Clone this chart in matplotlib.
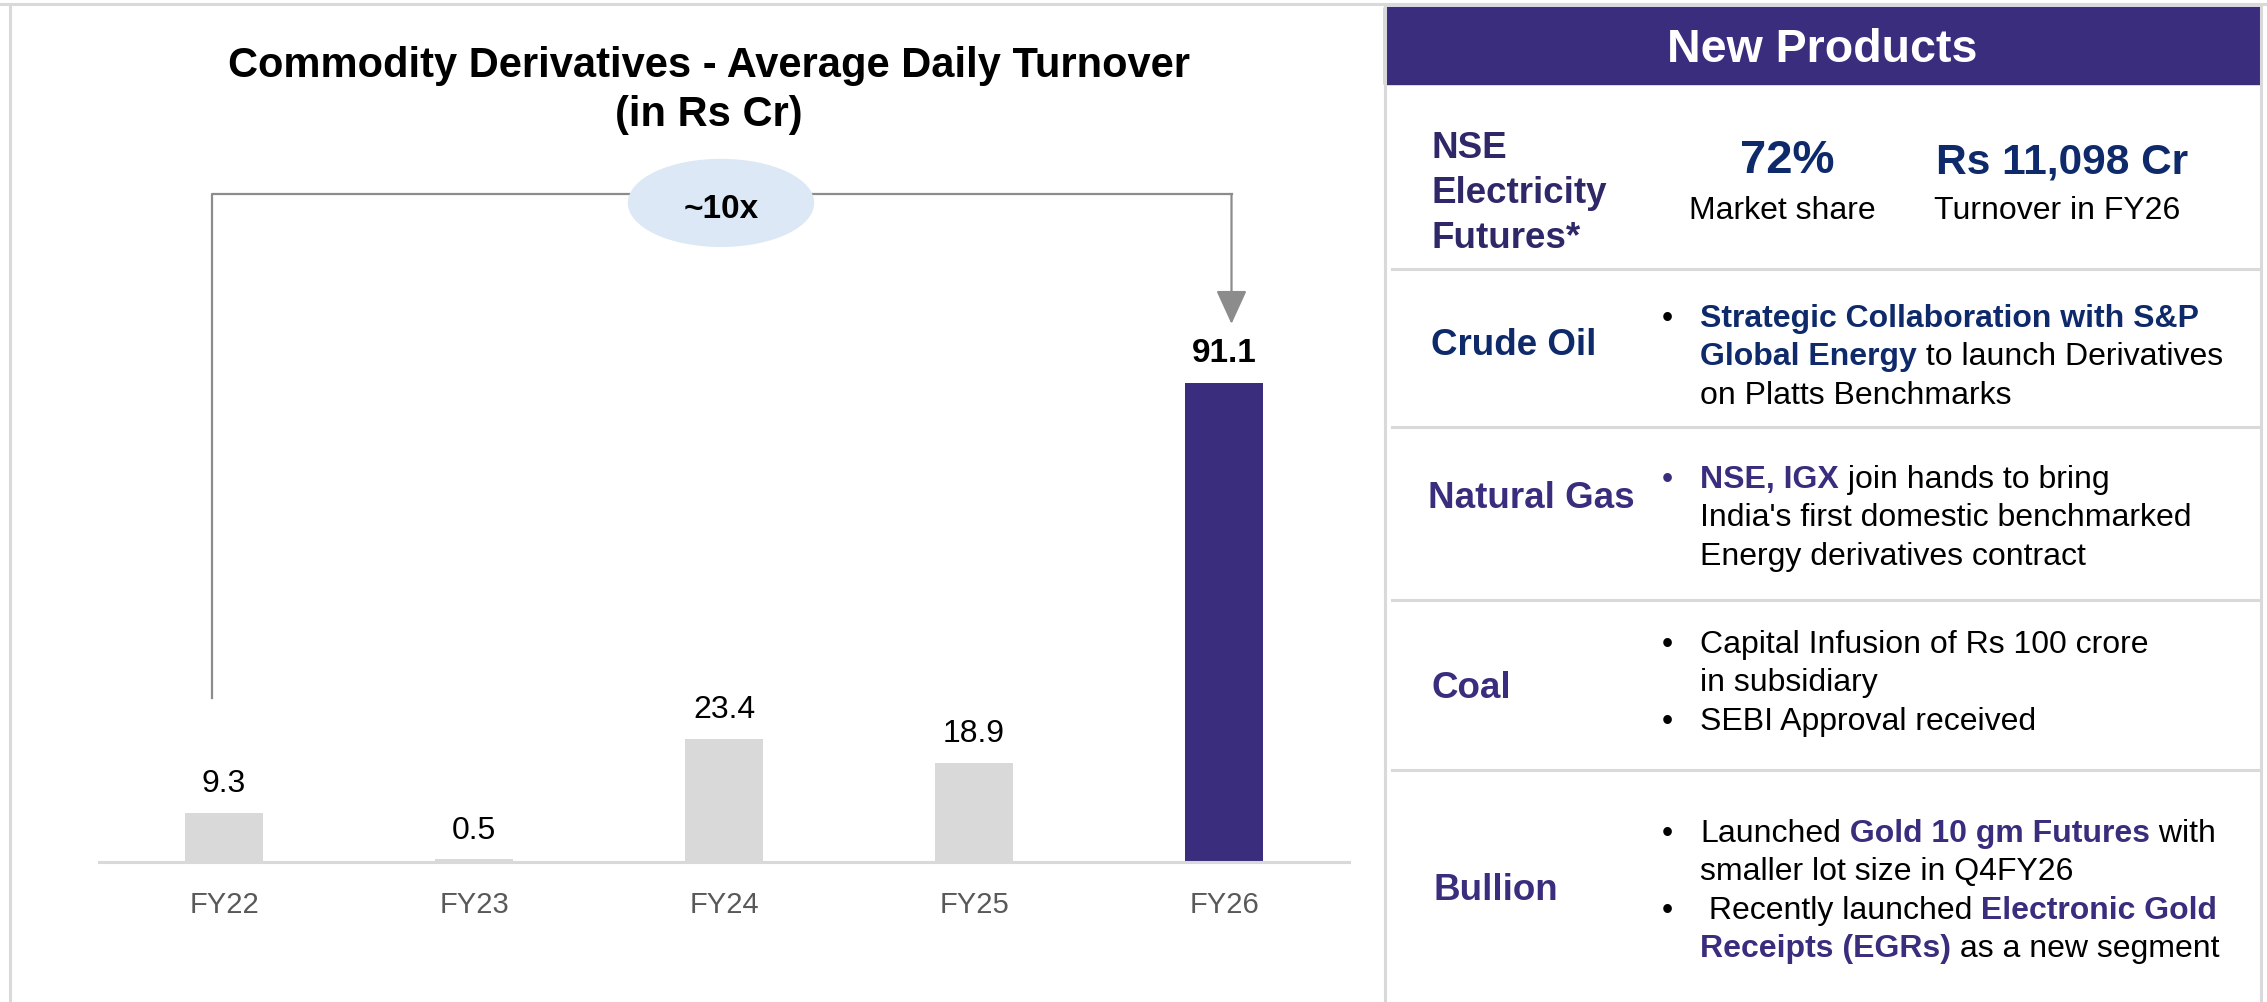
import matplotlib
matplotlib.use('Agg')
import matplotlib.pyplot as plt
from matplotlib.patches import Ellipse, Rectangle
from matplotlib.lines import Line2D

# ---- bar chart data ----
years = ['FY22', 'FY23', 'FY24', 'FY25', 'FY26']
turnover = [9.3, 0.5, 23.4, 18.9, 91.1]
highlight_year = 'FY26'
growth_label = '~10x'
title_lines = ['Commodity Derivatives - Average Daily Turnover', '(in Rs Cr)']

# ---- new products panel ----
header = 'New Products'
electricity_label = ['NSE', 'Electricity', 'Futures*']
electricity_values = ['72%', 'Rs 11,098 Cr']
electricity_captions = ['Market share', 'Turnover in FY26']
product_labels = ['Crude Oil', 'Natural Gas', 'Coal', 'Bullion']
# each line: (starts with bullet, [(text, bold), ...])
crude_lines = [
    (True, [('Strategic Collaboration with S&P', True)]),
    (False, [('Global Energy', True), (' to launch Derivatives', False)]),
    (False, [('on Platts Benchmarks', False)]),
]
gas_lines = [
    (True, [('NSE, IGX', True), (' join hands to bring', False)]),
    (False, [("India's first domestic benchmarked", False)]),
    (False, [('Energy derivatives contract', False)]),
]
coal_lines = [
    (True, [('Capital Infusion of Rs 100 crore', False)]),
    (False, [('in subsidiary', False)]),
    (True, [('SEBI Approval received', False)]),
]
bullion_lines = [
    (True, [('Launched', False), (' Gold 10 gm Futures', True), (' with', False)]),
    (False, [('smaller lot size in Q4FY26', False)]),
    (True, [(' Recently launched', False), (' Electronic Gold', True)]),
    (False, [('Receipts (EGRs)', True), (' as a new segment', False)]),
]
product_lines = [crude_lines, gas_lines, coal_lines, bullion_lines]

# ---- colours ----
PURPLE = '#3A2D7D'
NAVY = '#0F2A6B'
DARK_PURPLE = '#2F2868'
GREY_BAR = '#D9D9D9'
BORDER = '#D9D9D9'
BRACKET = '#8C8C8C'
BUBBLE = '#DCE8F5'
TICK = '#595959'

plt.rcParams['font.family'] = ['Liberation Sans', 'DejaVu Sans']

W, H = 2267, 1002
fig = plt.figure(figsize=(W / 100, H / 100), dpi=100)
renderer = fig.canvas.get_renderer()


def fx(x):
    return x / W


def fy(y):
    return 1 - y / H


def hline(y, x0, x1, lw=1.5, color=BORDER):
    fig.add_artist(Line2D([fx(x0), fx(x1)], [fy(y), fy(y)], color=color, lw=lw))


def vline(x, y0, y1, lw=1.5, color=BORDER):
    fig.add_artist(Line2D([fx(x), fx(x)], [fy(y0), fy(y1)], color=color, lw=lw))


def put_runs(x, y, runs, size, bold_color):
    for text, bold in runs:
        t = fig.text(fx(x), fy(y), text, fontsize=size,
                     fontweight='bold' if bold else 'normal',
                     color=bold_color if bold else 'black',
                     ha='left', va='baseline')
        x += t.get_window_extent(renderer).width


# ---- frame lines ----
hline(4, 0, W, lw=2.2)
vline(10, 4, H, lw=2.2)
vline(1385, 7, H, lw=2.2)
vline(2261, 7, H, lw=2.2)

# ---- title ----
fig.text(fx(709), fy(77), title_lines[0], ha='center', va='baseline',
         fontsize=30, fontweight='bold')
fig.text(fx(709), fy(126), title_lines[1], ha='center', va='baseline',
         fontsize=30, fontweight='bold')

# ---- bar chart ----
ax = fig.add_axes([fx(99), fy(862), (1349 - 99) / W, (862 - 336) / H])
x = list(range(len(years)))
colors = [PURPLE if y == highlight_year else GREY_BAR for y in years]
ax.bar(x, turnover, width=0.31, color=colors, zorder=2)
for i, v in enumerate(turnover):
    is_hl = years[i] == highlight_year
    ax.annotate(f'{v}', xy=(i, v), xytext=(0, 15), textcoords='offset points',
                ha='center', va='baseline', fontsize=24 if is_hl else 23,
                fontweight='bold' if is_hl else 'normal')
ax.set_xlim(-0.5, len(years) - 0.5)
ax.set_ylim(0, 100)
ax.set_xticks(x, years, fontsize=21, color=TICK)
ax.tick_params(axis='x', length=0, pad=21)
ax.set_yticks([])
for side in ['left', 'right', 'top']:
    ax.spines[side].set_visible(False)
ax.spines['bottom'].set_color(GREY_BAR)
ax.spines['bottom'].set_linewidth(2.2)
ax.patch.set_visible(False)

# growth bracket from first bar to last bar
left_x, right_x = -0.05, len(years) - 1 + 0.03
top_y = 127
ax.plot([left_x, left_x, right_x], [31.2, top_y, top_y], color=BRACKET,
        lw=1.6, clip_on=False, zorder=1)
ax.annotate('', xy=(right_x, 102.3), xytext=(right_x, top_y),
            arrowprops=dict(arrowstyle='-|>,head_length=1.05,head_width=0.48',
                            color=BRACKET, lw=1.6, shrinkA=0, shrinkB=0,
                            mutation_scale=20),
            annotation_clip=False)
mid = (len(years) - 1) / 2 - 0.012
ax.add_patch(Ellipse((mid, 125.3), width=0.74, height=16.5, color=BUBBLE,
                     clip_on=False, zorder=3))
ax.text(mid, 122.4, growth_label, ha='center', va='baseline', fontsize=24,
        fontweight='bold', zorder=4)

# ---- new products panel ----
fig.add_artist(Rectangle((fx(1384), fy(84)), (2260 - 1384) / W, (84 - 7) / H,
                         transform=fig.transFigure, color=PURPLE))
fig.text(fx(1822), fy(62), header, ha='center', va='baseline', fontsize=33.5,
         fontweight='bold', color='white')

for y in [269, 427, 600, 770]:
    hline(y, 1392, 2260, lw=2.2)

# electricity row
for i, line in enumerate(electricity_label):
    fig.text(fx(1431), fy(158 + 45 * i), line, fontsize=26.5, fontweight='bold',
             color=DARK_PURPLE, ha='left', va='baseline')
for cx, val, cap in zip([1787, 2062], electricity_values, electricity_captions):
    fig.text(fx(cx), fy(173), val, fontsize=34 if val.endswith('%') else 30.5,
             fontweight='bold', color=NAVY, ha='center', va='baseline')
    fig.text(fx(cx - 5), fy(219), cap, fontsize=23, color='black',
             ha='center', va='baseline')

# product rows
label_base = [355, 508, 698, 900]
first_line = [327, 488, 653, 842]
accent = [NAVY, PURPLE, PURPLE, PURPLE]
bullet_color = ['black', PURPLE, 'black', 'black']
label_x = [1431, 1428, 1432, 1434]
for k, label in enumerate(product_labels):
    fig.text(fx(label_x[k]), fy(label_base[k]), label, fontsize=26.5,
             fontweight='bold', color=accent[k], ha='left', va='baseline')
    for j, (bullet, runs) in enumerate(product_lines[k]):
        yb = first_line[k] + 38.3 * j
        if bullet:
            fig.text(fx(1662), fy(yb), '\u2022', fontsize=23,
                     color=bullet_color[k], ha='left', va='baseline')
        put_runs(1700, yb, runs, 23, accent[k])

fig.savefig('out.png', dpi=100)
